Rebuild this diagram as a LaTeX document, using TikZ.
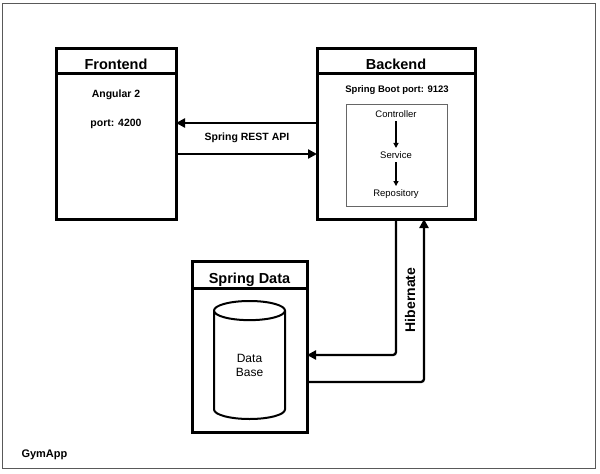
\documentclass[tikz,border=0pt]{standalone}
\usepackage{fontspec}
\setmainfont{Liberation Sans}
\usetikzlibrary{shapes.geometric,arrows.meta}

\tikzset{
  title/.style={draw, line width=3pt, outer sep=0pt, minimum height=25pt, inner sep=0pt, text height=18pt, text depth=0pt, font=\fontsize{14.5}{17}\selectfont\bfseries},
  body/.style={draw, line width=3pt, outer sep=0pt, inner sep=0pt, anchor=north},
  boldtext/.style={font=\fontsize{10.5}{12}\selectfont\bfseries},
  smalltext/.style={font=\fontsize{9.5}{11}\selectfont},
  link/.style={line width=2.3pt, -{Triangle[length=9pt,width=9pt]}},
  flow/.style={line width=1.2pt, -{Triangle[length=5pt,width=5pt]}},
}

\begin{document}
\begin{tikzpicture}[x=1pt,y=-1pt]

  \useasboundingbox (0,0) rectangle (600,474);
  \draw[gray!70!black, line width=1pt] (2,3) rectangle (595,468); % app frame

  %frontend
  \node[title, minimum width=120pt] (frontendTitle) at (116,60.5) {Frontend};
  \node[body, minimum width=120pt, minimum height=146pt] (frontend) at (frontendTitle.south) {};
  \node[boldtext] (angular) at (116,95) {Angular 2};
  \node[boldtext] (frontendPort) at (116,124) {port: 4200};

  %backend
  \node[title, minimum width=158pt] (backendTitle) at (396,60.5) {Backend};
  \node[body, minimum width=158pt, minimum height=146pt] (backend) at (backendTitle.south) {};
  \node[font=\fontsize{9.5}{11}\selectfont\bfseries] (springBoot) at (397,90) {Spring Boot port: 9123};
  \node[draw=gray!80!black, line width=1pt, minimum width=101pt, minimum height=102pt] (layers) at (396.5,155) {};
  \node[smalltext] (controller) at (396,114) {Controller};
  \node[smalltext] (service) at (396,155) {Service};
  \node[smalltext] (repository) at (396,194) {Repository};
  \draw[flow] (controller) -- (service);
  \draw[flow] (service) -- (repository);

  %rest api
  \draw[link] ([yshift=23pt]backend.west) -- ([yshift=23pt]backend.west -| frontend.east);
  \draw[link] ([yshift=-8pt]frontend.east) -- ([yshift=-8pt]frontend.east -| backend.west);
  \node[boldtext] (restApi) at (247,138) {Spring REST API};

  %spring data
  \node[title, minimum width=115pt, minimum height=27pt] (springDataTitle) at (249.5,274.5) {Spring Data};
  \node[body, minimum width=115pt, minimum height=144pt] (springData) at (springDataTitle.south) {};
  \node[cylinder, shape border rotate=90, draw, line width=2pt, aspect=0.7, inner sep=0pt, anchor=south,
        minimum width=71pt, minimum height=118pt, align=center, font=\fontsize{12}{14}\selectfont] (dataBase) at (249.5,420) {Data\\Base};

  %hibernate
  \draw[link, rounded corners=3pt] (backend.south) |- ([yshift=5pt]springData.east);
  \draw[link, rounded corners=3pt] ([yshift=-22pt]springData.east) -| ([xshift=28pt]backend.south);
  \node[font=\fontsize{14}{16}\selectfont\bfseries, rotate=90] (hibernate) at (410,300) {Hibernate};

  \node[font=\fontsize{11}{13}\selectfont\bfseries, anchor=west] (gymApp) at (18,455) {GymApp};

\end{tikzpicture}
\end{document}
